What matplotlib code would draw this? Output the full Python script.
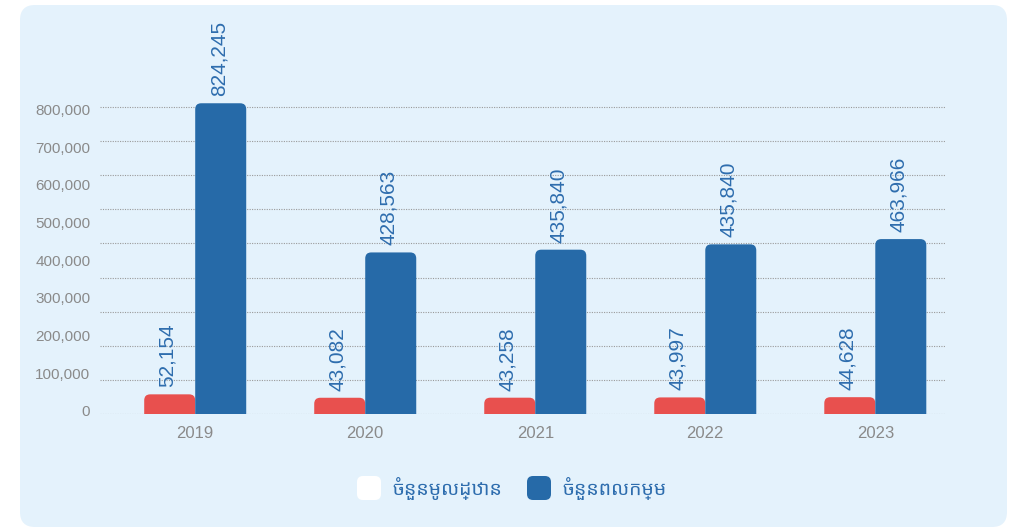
import numpy as np
import matplotlib
matplotlib.use("Agg")
from matplotlib import pyplot as plt
from matplotlib.patches import FancyBboxPatch
from matplotlib.transforms import ScaledTranslation

# data
years = ["2019", "2020", "2021", "2022", "2023"]
units = [52154, 43082, 43258, 43997, 44628]            # red bars
workers = [824245, 428563, 435840, 450000, 463966]     # blue bars (bar heights)
unit_labels = ["52,154", "43,082", "43,258", "43,997", "44,628"]
worker_labels = ["824,245", "428,563", "435,840", "435,840", "463,966"]
legend_names = ["ចំនួនមូលដ្ឋាន", "ចំនួនពលកម្ម"]
yticks = [0, 100000, 200000, 300000, 400000, 500000, 600000, 700000, 800000]

red = "#E8504E"
blue = "#266AA8"
bg = "#E4F2FC"
txt_blue = "#2E6DAE"
grey = "#8A8A8A"

plt.rcParams['font.family'] = ['Liberation Sans', 'Noto Sans Khmer', 'Khmer OS', 'DejaVu Sans']

fig = plt.figure(figsize=(10.2, 5.28), dpi=100)
fig.patch.set_facecolor("white")

# light blue rounded panel (inches)
panel = FancyBboxPatch((0.20, 0.01), 9.87, 5.22,
                       boxstyle="round,pad=0,rounding_size=0.15",
                       transform=fig.dpi_scale_trans, facecolor=bg,
                       edgecolor="none", zorder=0)
fig.add_artist(panel)

ymax = 830000
ax = fig.add_axes([100/1020, 1-414/528, 845/1020, (ymax*0.377/1000)/528])
ax.set_facecolor("none")
ax.set_xlim(-0.56, 4.41)
ax.set_ylim(0, ymax)
for s in ax.spines.values():
    s.set_visible(False)

# dotted grid lines
for g in np.arange(10) * 90500:
    ax.axhline(g, color="#9A9A9A", lw=0.8, ls=(0, (1, 1.2)), zorder=1)

x = np.arange(len(years))
w = 0.30
b1 = ax.bar(x - w/2, units, w, color=red, zorder=2)
b2 = ax.bar(x + w/2, workers, w, color=blue, zorder=2)

# make rounded tops
xpp = 1/170.0
ypp = 1000/0.377
r = 6 * xpp
for bars in (b1, b2):
    for rect in bars:
        rect.set_visible(False)
        rr = FancyBboxPatch((rect.get_x(), -20*ypp), rect.get_width(),
                            rect.get_height() + 20*ypp,
                            boxstyle="round,pad=0,rounding_size=%f" % r,
                            mutation_aspect=ypp/xpp,
                            facecolor=rect.get_facecolor(), edgecolor="none",
                            zorder=2)
        ax.add_patch(rr)

for bars, labs in ((b1, unit_labels), (b2, worker_labels)):
    for rect, lab in zip(bars, labs):
        ax.annotate(lab, (rect.get_x() + rect.get_width()/2, rect.get_height()),
                    xytext=(-1.5, 5), textcoords="offset points",
                    rotation=90, ha="center", va="bottom",
                    fontsize=15, color=txt_blue, annotation_clip=False)

ax.set_yticks(yticks)
ax.set_yticklabels(["{:,}".format(v) for v in yticks])
ax.set_xticks(x)
ax.set_xticklabels(years)
ax.tick_params(axis="y", length=0, pad=7, labelsize=11, labelcolor=grey)
ax.tick_params(axis="x", length=0, pad=9, labelsize=12, labelcolor=grey)
# y labels sit a little above their values in the original
up = ScaledTranslation(0, 3/100, fig.dpi_scale_trans)
for t in ax.get_yticklabels():
    t.set_transform(t.get_transform() + up)

# legend, drawn by hand with rounded squares
for px, col, name in ((357, "white", legend_names[0]), (527, blue, legend_names[1])):
    sq = FancyBboxPatch((px/100, (528-500)/100), 0.24, 0.24,
                        boxstyle="round,pad=0,rounding_size=0.06",
                        transform=fig.dpi_scale_trans, facecolor=col,
                        edgecolor="none")
    fig.add_artist(sq)
    fig.text((px+35)/1020, 1-488/528, name, fontsize=14, color=txt_blue,
             va="center", ha="left")

plt.savefig("out.png", dpi=100)
